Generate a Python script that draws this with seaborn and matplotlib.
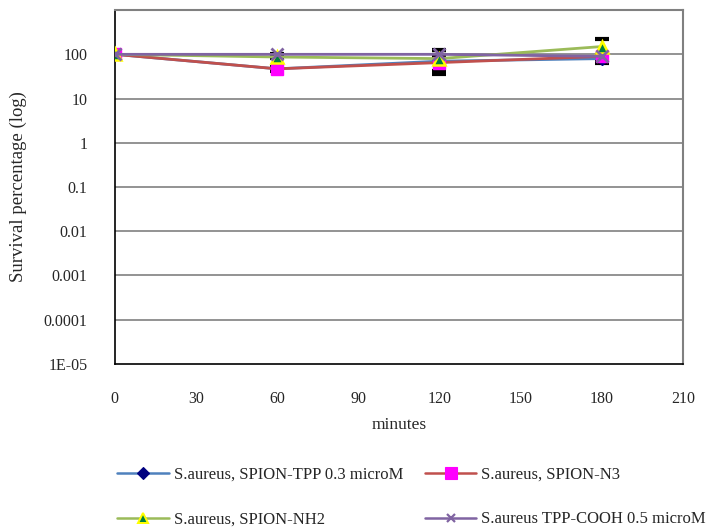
import matplotlib
matplotlib.use("Agg")
import matplotlib.pyplot as plt
import seaborn as sns
import pandas as pd
import numpy as np

minutes = [0, 60, 120, 180]
tpp_03 = [100, 47, 70, 80]
n3 = [100, 47, 65, 90]
nh2 = [100, 87, 80, 150]
tpp_cooh = [100, 100, 100, 90]

tpp_03_err = [0, 3, 27, 16]
n3_err = [0, 4, 30, 8]
nh2_err = [0, 3, 5, 76]
tpp_cooh_err = [0, 2, 28, 6]

labels = ["S.aureus, SPION-TPP 0.3 microM", "S.aureus, SPION-N3",
          "S.aureus, SPION-NH2", "S.aureus TPP-COOH 0.5 microM"]
y_ticks = [1e-5, 1e-4, 1e-3, 1e-2, 1e-1, 1, 10, 100]
y_ticklabels = ["1E-05", "0.0001", "0.001", "0.01", "0.1", "1", "10", "100"]
x_ticks = [0, 30, 60, 90, 120, 150, 180, 210]

sns.set_style("white")
plt.rcParams['font.family'] = ['Liberation Serif', 'DejaVu Serif']

fig = plt.figure(figsize=(7.22, 5.32), dpi=100)
ax = fig.add_axes([0.159, 0.316, 0.787, 0.665])

styles = [
    dict(color="#4F81BD", marker="D", mfc="#000080", mec="#000080", ms=6, lms=6),
    dict(color="#C0504D", marker="s", mfc="#FF00FF", mec="#FF00FF", ms=9, lms=8),
    dict(color="#9BBB59", marker="^", mfc="#008040", mec="#FFFF00", ms=9, mew=1.8, lms=7),
    dict(color="#8064A2", marker="x", mfc="#8064A2", mec="#8064A2", ms=8, mew=2, lms=6),
]
series = [tpp_03, n3, nh2, tpp_cooh]
errs = [tpp_03_err, n3_err, nh2_err, tpp_cooh_err]

for y in y_ticks[1:]:
    ax.axhline(y, color="#808080", lw=1.2, zorder=0)

for vals, err in zip(series, errs):
    ax.errorbar(minutes, vals, yerr=err, fmt="none", ecolor="black",
                elinewidth=1.5, capsize=5, capthick=3, zorder=2)

handles = []
for vals, lab, st in zip(series, labels, styles):
    df = pd.DataFrame({"minutes": minutes, "value": vals})
    sns.lineplot(data=df, x="minutes", y="value", ax=ax, color=st["color"],
                 lw=2, marker=st["marker"], markersize=st["ms"],
                 markerfacecolor=st["mfc"], markeredgecolor=st["mec"],
                 markeredgewidth=st.get("mew", 1), zorder=3)
    h, = ax.plot([], [], color=st["color"], lw=1.8, marker=st["marker"],
                 markersize=st["lms"], markerfacecolor=st["mfc"],
                 markeredgecolor=st["mec"], markeredgewidth=st.get("mew", 1) * 0.8)
    handles.append(h)

ax.set_yscale("log")
ax.set_ylim(1e-5, 1000)
ax.set_xlim(0, 210)
ax.set_yticks(y_ticks)
ax.set_yticklabels(y_ticklabels)
ax.minorticks_off()
ax.set_xticks(x_ticks)
ax.set_xticklabels([str(v) for v in x_ticks])
ax.tick_params(axis="both", labelsize=11.5, direction="inout", length=7,
               width=1, color="#404040")
ax.tick_params(axis="x", pad=16)
ax.tick_params(axis="y", pad=16)
ax.set_xlabel("minutes", fontsize=12.5, labelpad=7)
ax.set_ylabel("Survival percentage (log)", fontsize=13.5, labelpad=12)

for side in ["left", "bottom"]:
    ax.spines[side].set_color("black")
    ax.spines[side].set_linewidth(1.2)
for side in ["top", "right"]:
    ax.spines[side].set_color("#808080")
    ax.spines[side].set_linewidth(1.5)

order = [0, 2, 1, 3]
fig.legend(handles=[handles[i] for i in order], labels=[labels[i] for i in order],
           loc="upper left", bbox_to_anchor=(117 / 722, 1 - 467 / 532),
           ncol=2, frameon=False, borderpad=0, borderaxespad=0,
           fontsize=12.0, handlelength=3.1, columnspacing=1.3,
           labelspacing=1.7, handletextpad=0.3)

fig.savefig("out.png", dpi=100)
